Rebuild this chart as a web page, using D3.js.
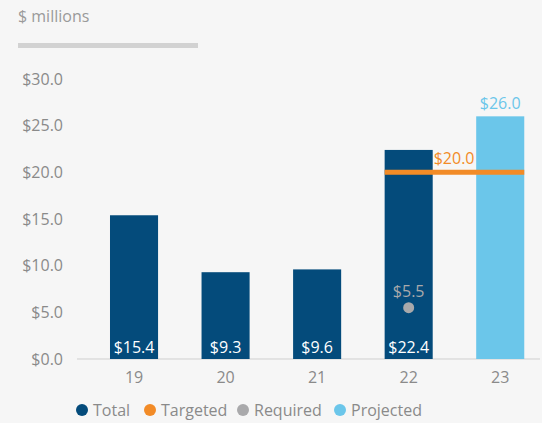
<!DOCTYPE html>
<html>
<head>
<meta charset="utf-8">
<script src="https://cdn.jsdelivr.net/npm/d3@7"></script>
<style>
  body { margin: 0; background: #f6f6f6; }
  svg { display: block; font-family: "Open Sans", Lato, sans-serif; }
</style>
</head>
<body>
<svg id="chart"></svg>
<script>
const WIDTH = 542,
  HEIGHT = 423;

// data
const years = ["19", "20", "21", "22", "23"];
const totals = [15.4, 9.3, 9.6, 22.4, null];
const projected = [null, null, null, null, 26.0];
const targeted = [{ from: "22", to: "23", value: 20.0 }];
const required = [{ year: "22", value: 5.5 }];
const yTicks = [0, 5, 10, 15, 20, 25, 30];
const legendItems = ["Total", "Targeted", "Required", "Projected"];

const DARK = "#044b7b",
  LIGHT = "#6bc6ea",
  ORANGE = "#f28b27",
  GREY = "#a9a9ab",
  TEXT = "#8a8a8a",
  FS = 16;

const svg = d3.select("#chart").attr("width", WIDTH).attr("height", HEIGHT);

const x = d3.scaleBand()
  .domain(years)
  .range([88.25, 546])
  .paddingInner(0.475)
  .paddingOuter(0.2375);

const y = d3.scaleLinear().domain([0, 30]).range([359, 79]);

const money = d => "$" + d3.format(".1f")(d);

// header
svg.append("text")
  .attr("x", 18).attr("y", 22)
  .attr("fill", "#9a9a9a")
  .attr("font-size", FS)
  .text("$ millions");
svg.append("rect")
  .attr("x", 18).attr("y", 43)
  .attr("width", 180).attr("height", 5)
  .attr("fill", "#d2d2d2");

// y axis labels
svg.append("g")
  .selectAll("text")
  .data(yTicks)
  .enter()
  .append("text")
  .attr("x", 63)
  .attr("y", d => y(d))
  .attr("dy", "0.35em")
  .attr("text-anchor", "end")
  .attr("fill", TEXT)
  .attr("font-size", FS)
  .text(money);

// baseline
svg.append("line")
  .attr("x1", 77).attr("x2", 540)
  .attr("y1", y(0)).attr("y2", y(0))
  .attr("stroke", "#cfcfcf")
  .attr("stroke-width", 1);

// x labels
svg.append("g")
  .selectAll("text")
  .data(years)
  .enter()
  .append("text")
  .attr("x", d => x(d) + x.bandwidth() / 2)
  .attr("y", 383)
  .attr("text-anchor", "middle")
  .attr("fill", TEXT)
  .attr("font-size", FS)
  .text(d => d);

// total bars
const totalData = years.map((yr, i) => ({ yr, v: totals[i] })).filter(d => d.v != null);
svg.append("g")
  .selectAll("rect")
  .data(totalData)
  .enter()
  .append("rect")
  .attr("x", d => x(d.yr))
  .attr("y", d => y(d.v))
  .attr("width", x.bandwidth())
  .attr("height", d => y(0) - y(d.v))
  .attr("fill", DARK);

svg.append("g")
  .selectAll("text")
  .data(totalData)
  .enter()
  .append("text")
  .attr("x", d => x(d.yr) + x.bandwidth() / 2)
  .attr("y", y(0) - 6)
  .attr("text-anchor", "middle")
  .attr("fill", "#fff")
  .attr("font-size", FS)
  .text(d => money(d.v));

// projected bars
const projData = years.map((yr, i) => ({ yr, v: projected[i] })).filter(d => d.v != null);
svg.append("g")
  .selectAll("rect")
  .data(projData)
  .enter()
  .append("rect")
  .attr("x", d => x(d.yr))
  .attr("y", d => y(d.v))
  .attr("width", x.bandwidth())
  .attr("height", d => y(0) - y(d.v))
  .attr("fill", LIGHT);

svg.append("g")
  .selectAll("text")
  .data(projData)
  .enter()
  .append("text")
  .attr("x", d => x(d.yr) + x.bandwidth() / 2)
  .attr("y", d => y(d.v) - 7)
  .attr("text-anchor", "middle")
  .attr("fill", LIGHT)
  .attr("font-size", FS)
  .text(d => money(d.v));

// targeted line
const tg = svg.append("g");
tg.selectAll("line")
  .data(targeted)
  .enter()
  .append("line")
  .attr("x1", d => x(d.from))
  .attr("x2", d => x(d.to) + x.bandwidth())
  .attr("y1", d => y(d.value))
  .attr("y2", d => y(d.value))
  .attr("stroke", ORANGE)
  .attr("stroke-width", 5);
tg.selectAll("text")
  .data(targeted)
  .enter()
  .append("text")
  .attr("x", d => x(d.from) + x.bandwidth() + 1)
  .attr("y", d => y(d.value) - 8)
  .attr("fill", ORANGE)
  .attr("font-size", FS)
  .text(d => money(d.value));

// required dot
const rq = svg.append("g");
rq.selectAll("circle")
  .data(required)
  .enter()
  .append("circle")
  .attr("cx", d => x(d.year) + x.bandwidth() / 2)
  .attr("cy", d => y(d.value))
  .attr("r", 5.5)
  .attr("fill", GREY);
rq.selectAll("text")
  .data(required)
  .enter()
  .append("text")
  .attr("x", d => x(d.year) + x.bandwidth() / 2)
  .attr("y", d => y(d.value) - 11)
  .attr("text-anchor", "middle")
  .attr("fill", GREY)
  .attr("font-size", FS)
  .text(d => money(d.value));

// legend
const legendColors = [DARK, ORANGE, GREY, LIGHT];
const legendX = [82, 150, 243, 340];
const lg = svg.append("g")
  .selectAll("g")
  .data(legendItems)
  .enter()
  .append("g")
  .attr("transform", (d, i) => `translate(${legendX[i]},410)`);
lg.append("circle")
  .attr("r", 6)
  .attr("fill", (d, i) => legendColors[i]);
lg.append("text")
  .attr("x", 11)
  .attr("dy", "0.35em")
  .attr("fill", TEXT)
  .attr("font-size", FS)
  .text(d => d);
</script>
</body>
</html>
